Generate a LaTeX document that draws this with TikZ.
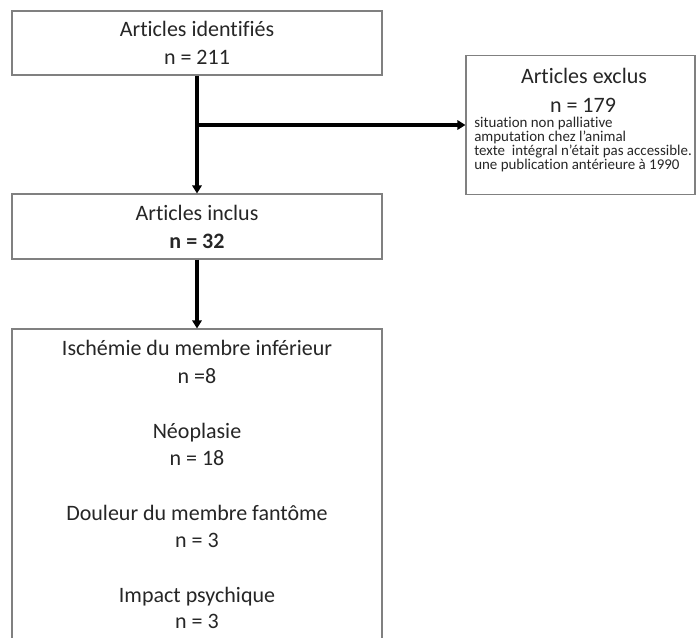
\documentclass[tikz,border=0pt]{standalone}
\usepackage{fontspec}
\setmainfont{Carlito}[Ligatures={NoCommon}]
\usetikzlibrary{arrows.meta}
\definecolor{boxgray}{HTML}{808080}
\definecolor{textcol}{HTML}{262626}
\begin{document}
\begin{tikzpicture}[x=0.75pt,y=-0.75pt,
  box/.style={draw=boxgray, line width=0.8pt, fill=white, inner sep=0pt, align=center,
    font=\fontsize{16.5}{21}\selectfont, text=textcol},
  big/.style={inner sep=0pt, font=\fontsize{16.5}{21}\selectfont, text=textcol, anchor=base},
  small/.style={inner sep=0pt, font=\fontsize{11.2}{11.2}\selectfont, text=textcol, anchor=base west},
  arr/.style={line width=2.5pt, draw=black, -{Triangle[length=6pt,width=7pt]}}]
\useasboundingbox (0,0) rectangle (696,637);
\clip (0,0) rectangle (696,637);

% boxes
\node[box, minimum width=277.5pt, minimum height=48pt] (top) at (197,43)
  {Articles identifiés\\n = 211};
\node[box, minimum width=277.5pt, minimum height=48.75pt] (inclus) at (197,226.5)
  {Articles inclus\\\textbf{n = 32}};
\node[box, minimum width=171.75pt, minimum height=104.25pt] (exclus) at (580.5,125) {};
\node[box, minimum width=277.5pt, minimum height=240.75pt] (bottom) at (197,489.5) {};

% exclus text
\node[big] (exh) at (584,83) {Articles exclus};
\node[big] (exn) at (583,112) {n = 179};
\node[small] (ex1) at (474,127) {situation non palliative};
\node[small] (ex2) at (474,141) {amputation chez l’animal};
\node[small] (ex3) at (474,155) {texte\ \ intégral n’était pas accessible.};
\node[small] (ex4) at (474,169) {une publication antérieure à 1990};

% bottom text
\node[big] (b1) at (197,355) {Ischémie du membre inférieur};
\node[big] (b2) at (197,383) {n =8};
\node[big] (b3) at (197,438) {Néoplasie};
\node[big] (b4) at (197,465) {n = 18};
\node[big] (b5) at (197,520) {Douleur du membre fantôme};
\node[big] (b6) at (197,547) {n = 3};
\node[big] (b7) at (197,602) {Impact psychique};
\node[big] (b8) at (197,628) {n = 3};

% connectors
\coordinate (br) at (197,125);
\draw[arr] (top.south) -- (inclus.north);
\draw[arr] (br) -- (exclus.west);
\draw[arr] (inclus.south) -- (bottom.north);
\end{tikzpicture}
\end{document}
